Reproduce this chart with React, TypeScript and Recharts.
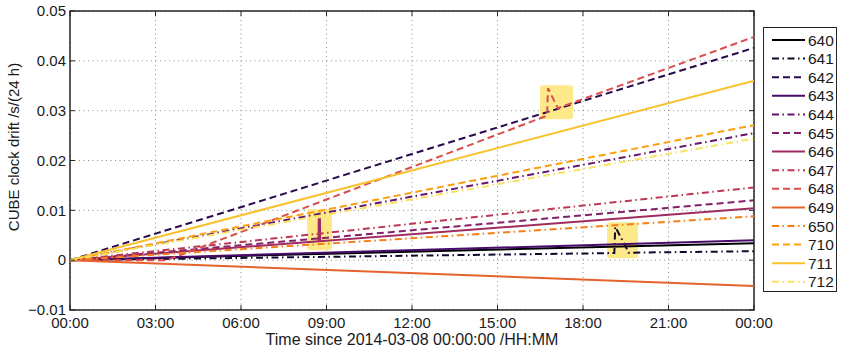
import React from 'react';
import { LineChart, Line, XAxis, YAxis, CartesianGrid, ReferenceArea, Legend } from 'recharts';

// ---------- data ----------
const seriesNames = ['640', '641', '642', '643', '644', '645', '646', '647', '648', '649', '650', '710', '711', '712'];

const t640 = [0, 24];
const v640 = [0, 0.0034];
const t641 = [0, 19.1, 19.13, 19.51, 19.6, 24];
const v641 = [0, 0.00143, 0.0067, 0.0026, 0.0015, 0.0018];
const t642 = [0, 24];
const v642 = [0, 0.0426];
const t643 = [0, 24];
const v643 = [0, 0.004];
const t644 = [0, 24];
const v644 = [0, 0.0255];
const t645 = [0, 24];
const v645 = [0, 0.012];
const t646 = [0, 8.72, 8.73, 8.77, 8.78, 24];
const v646 = [0, 0.0038, 0.0082, 0.0082, 0.0038, 0.0104];
const t647 = [0, 24];
const v647 = [0, 0.0146];
const t648 = [0, 3.4, 16.74, 16.77, 17.12, 24];
const v648 = [0, 0, 0.029, 0.0345, 0.0305, 0.0448];
const t649 = [0, 24];
const v649 = [0, -0.0052];
const t650 = [0, 24];
const v650 = [0, 0.0088];
const t710 = [0, 24];
const v710 = [0, 0.0271];
const t711 = [0, 24];
const v711 = [0, 0.036];
const t712 = [0, 24];
const v712 = [0, 0.0244];

const seriesTimes = [t640, t641, t642, t643, t644, t645, t646, t647, t648, t649, t650, t710, t711, t712];
const seriesValues = [v640, v641, v642, v643, v644, v645, v646, v647, v648, v649, v650, v710, v711, v712];

const xTicks = [0, 3, 6, 9, 12, 15, 18, 21, 24];
const xTickLabels = ['00:00', '03:00', '06:00', '09:00', '12:00', '15:00', '18:00', '21:00', '00:00'];
const yTicks = [-0.01, 0, 0.01, 0.02, 0.03, 0.04, 0.05];
const yTickLabels = ['\u22120.01', '0', '0.01', '0.02', '0.03', '0.04', '0.05'];

// highlight boxes
const boxX1 = [8.32, 16.49, 18.84];
const boxX2 = [9.19, 17.65, 19.93];
const boxY1 = [0.002, 0.0283, 0.0004];
const boxY2 = [0.0102, 0.0351, 0.0076];

// ---------- styles ----------
const seriesColors = ['#000004', '#100831', '#290b4d', '#480b69', '#64156d', '#82206a', '#9f2b61', '#bc3754', '#d94e4c', '#e6622c', '#f47f17', '#fb9f0c', '#f8c22d', '#f8e361'];
const seriesStyles = ['solid', 'dashdot', 'dashed', 'solid', 'dashdot', 'dashed', 'solid', 'dashdot', 'dashed', 'solid', 'dashdot', 'dashed', 'solid', 'dashdot'];
const dashFor = (s: string) => (s === 'dashed' ? '7 4' : s === 'dashdot' ? '7 3.5 1.5 3.5' : undefined);

const W = 841;
const H = 349;
const M_TOP = 11;
const M_RIGHT = 87;
const M_LEFT = 10;
const Y_W = 60;
const X_H = 39;
const PLOT_W = W - M_LEFT - Y_W - M_RIGHT;
const PLOT_H = H - M_TOP - X_H;
const FONT = '"Liberation Sans", Arial, Helvetica, sans-serif';
const TXT = '#1a1a1a';
const FRAME = '#262626';
const X_TM = 8;
const Y_TM = 4;
const TICK_LEN = 5;

const XTick = (props: any) => {
  const { x, y, payload } = props;
  const idx = xTicks.indexOf(payload.value);
  const axisY = y - X_TM;
  return (
    <g>
      <line x1={x} x2={x} y1={axisY} y2={axisY - TICK_LEN} stroke={FRAME} strokeWidth={1} />
      <line x1={x} x2={x} y1={axisY - PLOT_H} y2={axisY - PLOT_H + TICK_LEN} stroke={FRAME} strokeWidth={1} />
      <text x={x} y={y} dy="0.66em" textAnchor="middle" fontSize={15} fontFamily={FONT} fill={TXT}>
        {xTickLabels[idx]}
      </text>
    </g>
  );
};

const YTick = (props: any) => {
  const { x, y, payload } = props;
  const idx = yTicks.findIndex((v) => Math.abs(v - payload.value) < 1e-9);
  const axisX = x + Y_TM;
  return (
    <g>
      <line x1={axisX} x2={axisX + TICK_LEN} y1={y} y2={y} stroke={FRAME} strokeWidth={1} />
      <line x1={axisX + PLOT_W} x2={axisX + PLOT_W - TICK_LEN} y1={y} y2={y} stroke={FRAME} strokeWidth={1} />
      <text x={x} y={y} dy="0.355em" textAnchor="end" fontSize={15} fontFamily={FONT} fill={TXT}>
        {yTickLabels[idx]}
      </text>
    </g>
  );
};

const LegendBox = () => (
  <svg width={74} height={265} style={{ display: 'block' }}>
    <rect x={0.5} y={0.5} width={73} height={264} fill="#fff" stroke={FRAME} strokeWidth={1} />
    {seriesNames.map((n, i) => {
      const cy = 13 + i * 18.6;
      return (
        <g key={n}>
          <line x1={9} x2={42} y1={cy} y2={cy} stroke={seriesColors[i]} strokeWidth={2} strokeDasharray={dashFor(seriesStyles[i])} />
          <text x={45} y={cy} dy="0.355em" fontSize={15.5} fontFamily={FONT} fill={TXT}>
            {n}
          </text>
        </g>
      );
    })}
  </svg>
);

export default function App() {
  return (
    <div style={{ position: 'absolute', left: 0, top: 0, width: W, height: H, background: '#fff' }}>
      <LineChart width={W} height={H} margin={{ top: M_TOP, right: M_RIGHT, bottom: 0, left: M_LEFT }}>
        <CartesianGrid stroke="#8a8a8a" strokeDasharray="1 3.5" strokeWidth={1} />
        <XAxis
          dataKey="t"
          type="number"
          domain={[0, 24]}
          ticks={xTicks}
          height={X_H}
          axisLine={false}
          tickLine={false}
          tickSize={0}
          tickMargin={X_TM}
          tick={<XTick />}
          interval={0}
          allowDataOverflow
          label={{
            content: (p: any) => {
              const vb = p.viewBox;
              return (
                <text x={vb.x + vb.width / 2} y={vb.y + 35} textAnchor="middle" fontSize={16} fontFamily={FONT} fill={TXT}>
                  Time since 2014-03-08 00:00:00 /HH:MM
                </text>
              );
            },
          }}
        />
        <YAxis
          type="number"
          domain={[-0.01, 0.05]}
          ticks={yTicks}
          width={Y_W}
          axisLine={false}
          tickLine={false}
          tickSize={0}
          tickMargin={Y_TM}
          tick={<YTick />}
          interval={0}
          allowDataOverflow
          label={{
            content: (p: any) => {
              const vb = p.viewBox;
              const cx = vb.x + 8.5;
              const cy = 147;
              return (
                <text x={cx} y={cy} transform={`rotate(-90 ${cx} ${cy})`} textAnchor="middle" fontSize={15} fontFamily={FONT} fill={TXT}>
                  CUBE clock drift /s/(24 h)
                </text>
              );
            },
          }}
        />
        {boxX1.map((x1, i) => (
          <ReferenceArea
            key={'box' + i}
            x1={x1}
            x2={boxX2[i]}
            y1={boxY1[i]}
            y2={boxY2[i]}
            fill="#fde98a"
            fillOpacity={1}
            stroke="none"
            radius={3}
            ifOverflow="visible"
          />
        ))}
        {seriesNames.map((n, i) => (
          <Line
            key={n}
            data={seriesTimes[i].map((t, j) => ({ t, v: seriesValues[i][j] }))}
            dataKey="v"
            name={n}
            type="linear"
            dot={false}
            activeDot={false}
            stroke={seriesColors[i]}
            strokeWidth={2}
            strokeDasharray={dashFor(seriesStyles[i])}
            isAnimationActive={false}
          />
        ))}
        <ReferenceArea x1={0} x2={24} y1={-0.01} y2={0.05} fill="none" stroke={FRAME} strokeWidth={1.5} ifOverflow="visible" />
        <Legend
          layout="vertical"
          align="center"
          verticalAlign="middle"
          content={<LegendBox />}
          wrapperStyle={{ left: 763, top: 27, width: 74, height: 265 }}
        />
      </LineChart>
    </div>
  );
}
